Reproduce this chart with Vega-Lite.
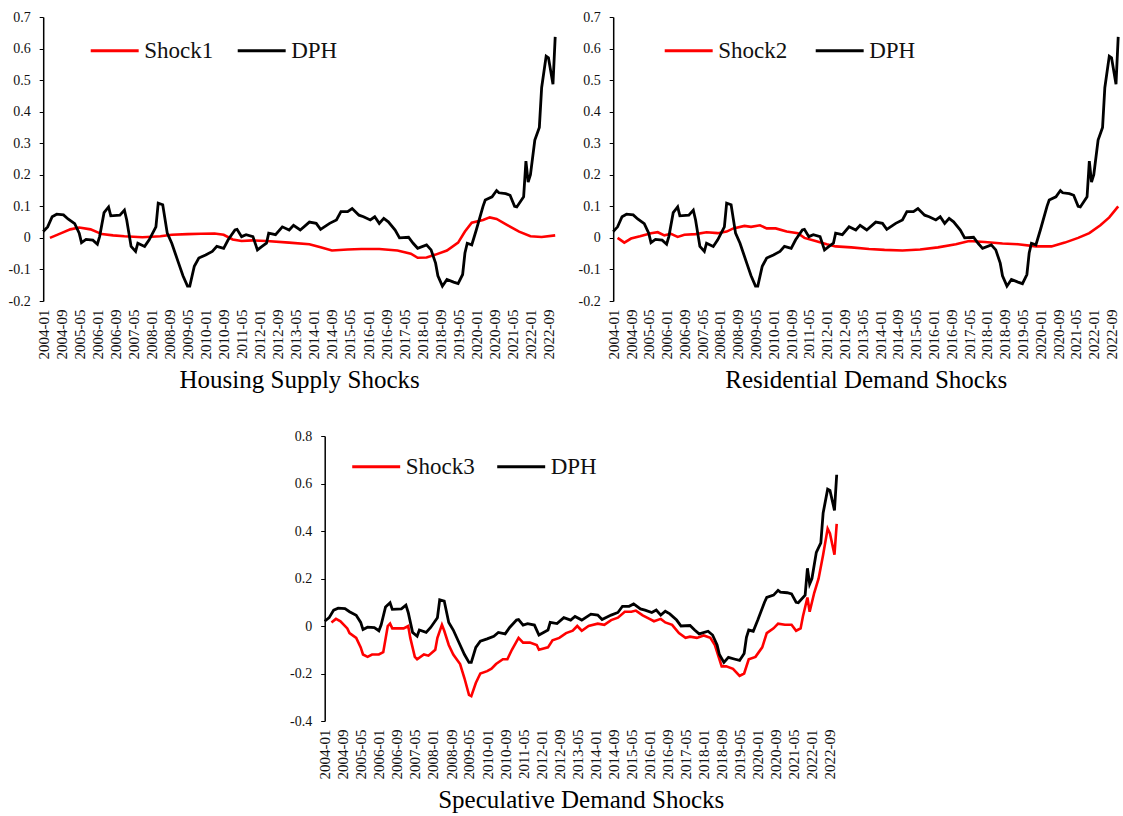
{
  "$schema": "https://vega.github.io/schema/vega-lite/v6.json",
  "background": "white",
  "padding": {"left": 8, "top": 10, "right": 0, "bottom": 0},
  "config": {
    "view": {"stroke": null},
    "font": "Liberation Serif",
    "axis": {"labelFont": "Liberation Serif", "titleFont": "Liberation Serif", "labelColor": "#111", "titleColor": "#000", "grid": false, "labelOverlap": false},
    "axisX": {"labelOverlap": false, "labelAngle": 270, "labelFontSize": 15, "labelPadding": 8, "labelFlush": false, "domain": false, "ticks": false, "titleFontSize": 25, "titleFontWeight": "normal", "titlePadding": 9},
    "axisY": {"labelOverlap": false, "labelFontSize": 14, "labelPadding": 9, "tickSize": 4, "domainColor": "#000", "tickColor": "#000", "domainWidth": 1.5, "labelFlush": false, "title": null, "labelExpr": "toString(round(datum.value*10)/10)"},
    "legend": {"labelFont": "Liberation Serif", "title": null, "orient": "none", "direction": "horizontal", "symbolType": "stroke", "symbolSize": 2300, "symbolStrokeWidth": 3, "labelFontSize": 23, "labelColor": "#111", "labelOffset": 4}
  },
  "datasets": {
    "dph": [
      {"date": "2004-01-01", "value": 0.02}, {"date": "2004-03-01", "value": 0.035}, {"date": "2004-05-01", "value": 0.067}, {"date": "2004-07-01", "value": 0.075},
      {"date": "2004-10-01", "value": 0.073}, {"date": "2004-12-01", "value": 0.06}, {"date": "2005-03-01", "value": 0.045}, {"date": "2005-05-01", "value": 0.015},
      {"date": "2005-06-01", "value": -0.015}, {"date": "2005-08-01", "value": -0.005}, {"date": "2005-11-01", "value": -0.007}, {"date": "2006-01-01", "value": -0.02},
      {"date": "2006-02-01", "value": 0.005}, {"date": "2006-04-01", "value": 0.08}, {"date": "2006-06-01", "value": 0.098}, {"date": "2006-07-01", "value": 0.07},
      {"date": "2006-11-01", "value": 0.072}, {"date": "2007-01-01", "value": 0.088}, {"date": "2007-02-01", "value": 0.057}, {"date": "2007-04-01", "value": -0.027},
      {"date": "2007-06-01", "value": -0.043}, {"date": "2007-07-01", "value": -0.017}, {"date": "2007-10-01", "value": -0.027}, {"date": "2007-12-01", "value": -0.006},
      {"date": "2008-03-01", "value": 0.035}, {"date": "2008-04-01", "value": 0.11}, {"date": "2008-06-01", "value": 0.105}, {"date": "2008-08-01", "value": 0.015},
      {"date": "2008-10-01", "value": -0.017}, {"date": "2009-01-01", "value": -0.08}, {"date": "2009-03-01", "value": -0.12}, {"date": "2009-05-01", "value": -0.153},
      {"date": "2009-06-01", "value": -0.153}, {"date": "2009-08-01", "value": -0.09}, {"date": "2009-10-01", "value": -0.064}, {"date": "2010-01-01", "value": -0.054},
      {"date": "2010-04-01", "value": -0.043}, {"date": "2010-06-01", "value": -0.027}, {"date": "2010-09-01", "value": -0.033}, {"date": "2010-11-01", "value": -0.006},
      {"date": "2011-02-01", "value": 0.025}, {"date": "2011-03-01", "value": 0.027}, {"date": "2011-05-01", "value": 0.004}, {"date": "2011-07-01", "value": 0.01},
      {"date": "2011-10-01", "value": 0.004}, {"date": "2011-12-01", "value": -0.038}, {"date": "2012-02-01", "value": -0.027}, {"date": "2012-04-01", "value": -0.017},
      {"date": "2012-05-01", "value": 0.015}, {"date": "2012-08-01", "value": 0.01}, {"date": "2012-11-01", "value": 0.035}, {"date": "2013-02-01", "value": 0.025},
      {"date": "2013-04-01", "value": 0.04}, {"date": "2013-07-01", "value": 0.025}, {"date": "2013-11-01", "value": 0.05}, {"date": "2014-02-01", "value": 0.046},
      {"date": "2014-04-01", "value": 0.027}, {"date": "2014-08-01", "value": 0.046}, {"date": "2014-11-01", "value": 0.057}, {"date": "2015-01-01", "value": 0.083},
      {"date": "2015-04-01", "value": 0.083}, {"date": "2015-06-01", "value": 0.093}, {"date": "2015-09-01", "value": 0.072}, {"date": "2015-11-01", "value": 0.067},
      {"date": "2016-02-01", "value": 0.057}, {"date": "2016-04-01", "value": 0.067}, {"date": "2016-06-01", "value": 0.046}, {"date": "2016-08-01", "value": 0.062},
      {"date": "2016-10-01", "value": 0.051}, {"date": "2017-01-01", "value": 0.025}, {"date": "2017-03-01", "value": 0.0}, {"date": "2017-07-01", "value": 0.002},
      {"date": "2017-09-01", "value": -0.017}, {"date": "2017-11-01", "value": -0.033}, {"date": "2018-03-01", "value": -0.022}, {"date": "2018-05-01", "value": -0.038},
      {"date": "2018-07-01", "value": -0.08}, {"date": "2018-08-01", "value": -0.12}, {"date": "2018-10-01", "value": -0.153}, {"date": "2018-12-01", "value": -0.132},
      {"date": "2019-03-01", "value": -0.14}, {"date": "2019-05-01", "value": -0.145}, {"date": "2019-07-01", "value": -0.116}, {"date": "2019-08-01", "value": -0.048},
      {"date": "2019-09-01", "value": -0.017}, {"date": "2019-11-01", "value": -0.022}, {"date": "2020-01-01", "value": 0.025}, {"date": "2020-04-01", "value": 0.1},
      {"date": "2020-05-01", "value": 0.12}, {"date": "2020-08-01", "value": 0.13}, {"date": "2020-10-01", "value": 0.15}, {"date": "2020-11-01", "value": 0.143},
      {"date": "2021-02-01", "value": 0.14}, {"date": "2021-04-01", "value": 0.135}, {"date": "2021-06-01", "value": 0.1}, {"date": "2021-07-01", "value": 0.098},
      {"date": "2021-10-01", "value": 0.13}, {"date": "2021-11-01", "value": 0.243}, {"date": "2021-12-01", "value": 0.177}, {"date": "2022-01-01", "value": 0.2},
      {"date": "2022-03-01", "value": 0.31}, {"date": "2022-05-01", "value": 0.35}, {"date": "2022-06-01", "value": 0.476}, {"date": "2022-08-01", "value": 0.576},
      {"date": "2022-09-01", "value": 0.571}, {"date": "2022-11-01", "value": 0.487}, {"date": "2022-12-01", "value": 0.637}
    ],
    "shock1": [
      {"date": "2004-04-01", "value": 0.0}, {"date": "2004-09-01", "value": 0.015}, {"date": "2005-01-01", "value": 0.027}, {"date": "2005-05-01", "value": 0.033},
      {"date": "2005-10-01", "value": 0.027}, {"date": "2006-03-01", "value": 0.012}, {"date": "2006-08-01", "value": 0.008}, {"date": "2007-01-01", "value": 0.005},
      {"date": "2007-09-01", "value": 0.002}, {"date": "2008-05-01", "value": 0.005}, {"date": "2008-10-01", "value": 0.01}, {"date": "2009-05-01", "value": 0.012},
      {"date": "2009-11-01", "value": 0.013}, {"date": "2010-05-01", "value": 0.014}, {"date": "2010-09-01", "value": 0.01}, {"date": "2011-01-01", "value": -0.005},
      {"date": "2011-05-01", "value": -0.01}, {"date": "2011-10-01", "value": -0.008}, {"date": "2012-04-01", "value": -0.01}, {"date": "2013-02-01", "value": -0.015},
      {"date": "2013-11-01", "value": -0.02}, {"date": "2014-04-01", "value": -0.03}, {"date": "2014-09-01", "value": -0.04}, {"date": "2015-04-01", "value": -0.037},
      {"date": "2015-10-01", "value": -0.035}, {"date": "2016-06-01", "value": -0.035}, {"date": "2017-02-01", "value": -0.04}, {"date": "2017-08-01", "value": -0.05},
      {"date": "2017-11-01", "value": -0.063}, {"date": "2018-03-01", "value": -0.062}, {"date": "2018-07-01", "value": -0.053}, {"date": "2018-12-01", "value": -0.04},
      {"date": "2019-05-01", "value": -0.015}, {"date": "2019-08-01", "value": 0.02}, {"date": "2019-11-01", "value": 0.048}, {"date": "2020-04-01", "value": 0.057},
      {"date": "2020-07-01", "value": 0.065}, {"date": "2020-10-01", "value": 0.06}, {"date": "2021-03-01", "value": 0.04}, {"date": "2021-08-01", "value": 0.02},
      {"date": "2022-01-01", "value": 0.005}, {"date": "2022-06-01", "value": 0.003}, {"date": "2022-12-01", "value": 0.008}
    ],
    "shock2": [
      {"date": "2004-03-01", "value": 0.0}, {"date": "2004-06-01", "value": -0.015}, {"date": "2004-09-01", "value": -0.002}, {"date": "2005-01-01", "value": 0.005},
      {"date": "2005-06-01", "value": 0.015}, {"date": "2005-09-01", "value": 0.018}, {"date": "2005-12-01", "value": 0.008}, {"date": "2006-03-01", "value": 0.013},
      {"date": "2006-06-01", "value": 0.003}, {"date": "2006-09-01", "value": 0.01}, {"date": "2007-02-01", "value": 0.012}, {"date": "2007-07-01", "value": 0.018},
      {"date": "2007-12-01", "value": 0.015}, {"date": "2008-04-01", "value": 0.02}, {"date": "2008-07-01", "value": 0.03}, {"date": "2008-12-01", "value": 0.038},
      {"date": "2009-03-01", "value": 0.035}, {"date": "2009-07-01", "value": 0.04}, {"date": "2009-10-01", "value": 0.03}, {"date": "2010-02-01", "value": 0.03},
      {"date": "2010-07-01", "value": 0.02}, {"date": "2010-12-01", "value": 0.015}, {"date": "2011-03-01", "value": 0.0}, {"date": "2011-08-01", "value": -0.01},
      {"date": "2012-01-01", "value": -0.02}, {"date": "2012-05-01", "value": -0.027}, {"date": "2012-12-01", "value": -0.03}, {"date": "2013-08-01", "value": -0.035},
      {"date": "2014-03-01", "value": -0.038}, {"date": "2014-11-01", "value": -0.04}, {"date": "2015-07-01", "value": -0.037}, {"date": "2016-03-01", "value": -0.03},
      {"date": "2016-11-01", "value": -0.02}, {"date": "2017-05-01", "value": -0.01}, {"date": "2017-12-01", "value": -0.013}, {"date": "2018-08-01", "value": -0.018},
      {"date": "2019-03-01", "value": -0.02}, {"date": "2019-11-01", "value": -0.027}, {"date": "2020-06-01", "value": -0.027}, {"date": "2020-12-01", "value": -0.015},
      {"date": "2021-06-01", "value": 0.0}, {"date": "2021-11-01", "value": 0.015}, {"date": "2022-04-01", "value": 0.04}, {"date": "2022-08-01", "value": 0.065},
      {"date": "2022-12-01", "value": 0.1}
    ],
    "shock3": [
      {"date": "2004-04-01", "value": 0.015}, {"date": "2004-06-01", "value": 0.03}, {"date": "2004-08-01", "value": 0.02}, {"date": "2004-11-01", "value": -0.01},
      {"date": "2004-12-01", "value": -0.03}, {"date": "2005-03-01", "value": -0.05}, {"date": "2005-05-01", "value": -0.09}, {"date": "2005-06-01", "value": -0.12},
      {"date": "2005-08-01", "value": -0.13}, {"date": "2005-10-01", "value": -0.12}, {"date": "2006-01-01", "value": -0.12}, {"date": "2006-03-01", "value": -0.11},
      {"date": "2006-05-01", "value": 0.0}, {"date": "2006-06-01", "value": 0.01}, {"date": "2006-07-01", "value": -0.01}, {"date": "2006-12-01", "value": -0.01},
      {"date": "2007-02-01", "value": 0.0}, {"date": "2007-03-01", "value": -0.05}, {"date": "2007-05-01", "value": -0.13}, {"date": "2007-06-01", "value": -0.14},
      {"date": "2007-09-01", "value": -0.12}, {"date": "2007-11-01", "value": -0.125}, {"date": "2008-02-01", "value": -0.1}, {"date": "2008-03-01", "value": -0.05},
      {"date": "2008-05-01", "value": 0.005}, {"date": "2008-06-01", "value": -0.02}, {"date": "2008-08-01", "value": -0.08}, {"date": "2008-10-01", "value": -0.12},
      {"date": "2009-01-01", "value": -0.16}, {"date": "2009-03-01", "value": -0.22}, {"date": "2009-05-01", "value": -0.29}, {"date": "2009-06-01", "value": -0.295},
      {"date": "2009-08-01", "value": -0.24}, {"date": "2009-10-01", "value": -0.2}, {"date": "2010-01-01", "value": -0.19}, {"date": "2010-03-01", "value": -0.18},
      {"date": "2010-05-01", "value": -0.16}, {"date": "2010-08-01", "value": -0.14}, {"date": "2010-10-01", "value": -0.14}, {"date": "2010-12-01", "value": -0.1},
      {"date": "2011-03-01", "value": -0.05}, {"date": "2011-05-01", "value": -0.07}, {"date": "2011-08-01", "value": -0.07}, {"date": "2011-11-01", "value": -0.08},
      {"date": "2011-12-01", "value": -0.1}, {"date": "2012-04-01", "value": -0.09}, {"date": "2012-06-01", "value": -0.06}, {"date": "2012-09-01", "value": -0.05},
      {"date": "2012-12-01", "value": -0.03}, {"date": "2013-03-01", "value": -0.02}, {"date": "2013-05-01", "value": 0.0}, {"date": "2013-07-01", "value": -0.02},
      {"date": "2013-10-01", "value": 0.0}, {"date": "2014-02-01", "value": 0.01}, {"date": "2014-05-01", "value": 0.005}, {"date": "2014-08-01", "value": 0.025},
      {"date": "2014-11-01", "value": 0.035}, {"date": "2015-02-01", "value": 0.06}, {"date": "2015-05-01", "value": 0.06}, {"date": "2015-07-01", "value": 0.065},
      {"date": "2015-10-01", "value": 0.045}, {"date": "2016-01-01", "value": 0.03}, {"date": "2016-03-01", "value": 0.02}, {"date": "2016-06-01", "value": 0.03},
      {"date": "2016-08-01", "value": 0.015}, {"date": "2016-11-01", "value": 0.005}, {"date": "2017-02-01", "value": -0.03}, {"date": "2017-05-01", "value": -0.05},
      {"date": "2017-07-01", "value": -0.045}, {"date": "2017-10-01", "value": -0.05}, {"date": "2018-01-01", "value": -0.04}, {"date": "2018-04-01", "value": -0.05},
      {"date": "2018-06-01", "value": -0.08}, {"date": "2018-09-01", "value": -0.17}, {"date": "2018-11-01", "value": -0.17}, {"date": "2019-02-01", "value": -0.18},
      {"date": "2019-05-01", "value": -0.21}, {"date": "2019-07-01", "value": -0.2}, {"date": "2019-09-01", "value": -0.14}, {"date": "2019-12-01", "value": -0.13},
      {"date": "2020-03-01", "value": -0.09}, {"date": "2020-05-01", "value": -0.03}, {"date": "2020-08-01", "value": -0.01}, {"date": "2020-10-01", "value": 0.01},
      {"date": "2021-01-01", "value": 0.005}, {"date": "2021-04-01", "value": 0.005}, {"date": "2021-06-01", "value": -0.02}, {"date": "2021-08-01", "value": -0.01},
      {"date": "2021-09-01", "value": 0.04}, {"date": "2021-11-01", "value": 0.12}, {"date": "2021-12-01", "value": 0.06}, {"date": "2022-02-01", "value": 0.14},
      {"date": "2022-04-01", "value": 0.2}, {"date": "2022-06-01", "value": 0.3}, {"date": "2022-08-01", "value": 0.41}, {"date": "2022-09-01", "value": 0.39},
      {"date": "2022-11-01", "value": 0.3}, {"date": "2022-12-01", "value": 0.43}
    ]
  },
  "vconcat": [
    {
      "hconcat": [
        {
          "width": 512, "height": 284,
          "encoding": {
            "x": {"field": "date", "type": "temporal", "scale": {"type": "utc", "domain": [{"year": 2004, "month": 1, "date": 1, "utc": true}, {"year": 2022, "month": 12, "date": 1, "utc": true}]},
              "axis": {"values": [{"year":2004,"month":1,"date":1,"utc":true},{"year":2004,"month":9,"date":1,"utc":true},{"year":2005,"month":5,"date":1,"utc":true},{"year":2006,"month":1,"date":1,"utc":true},{"year":2006,"month":9,"date":1,"utc":true},{"year":2007,"month":5,"date":1,"utc":true},{"year":2008,"month":1,"date":1,"utc":true},{"year":2008,"month":9,"date":1,"utc":true},{"year":2009,"month":5,"date":1,"utc":true},{"year":2010,"month":1,"date":1,"utc":true},{"year":2010,"month":9,"date":1,"utc":true},{"year":2011,"month":5,"date":1,"utc":true},{"year":2012,"month":1,"date":1,"utc":true},{"year":2012,"month":9,"date":1,"utc":true},{"year":2013,"month":5,"date":1,"utc":true},{"year":2014,"month":1,"date":1,"utc":true},{"year":2014,"month":9,"date":1,"utc":true},{"year":2015,"month":5,"date":1,"utc":true},{"year":2016,"month":1,"date":1,"utc":true},{"year":2016,"month":9,"date":1,"utc":true},{"year":2017,"month":5,"date":1,"utc":true},{"year":2018,"month":1,"date":1,"utc":true},{"year":2018,"month":9,"date":1,"utc":true},{"year":2019,"month":5,"date":1,"utc":true},{"year":2020,"month":1,"date":1,"utc":true},{"year":2020,"month":9,"date":1,"utc":true},{"year":2021,"month":5,"date":1,"utc":true},{"year":2022,"month":1,"date":1,"utc":true},{"year":2022,"month":9,"date":1,"utc":true}],
                "labelExpr": "utcFormat(datum.value, '%Y-%m')", "labelOverlap": false, "title": "Housing Supply Shocks"}},
            "y": {"field": "value", "type": "quantitative", "scale": {"domain": [-0.2, 0.7], "nice": false, "zero": false},
              "axis": {"values": [-0.2, -0.1, 0, 0.1, 0.2, 0.3, 0.4, 0.5, 0.6, 0.7], "labelOverlap": false}}
          },
          "layer": [
            {"data": {"name": "shock1"}, "mark": {"type": "line", "strokeWidth": 2.6},
             "encoding": {"color": {"datum": "Shock1", "type": "nominal", "scale": {"domain": ["Shock1", "DPH"], "range": ["#ff0000", "#000000"]},
                 "legend": {"legendX": 46, "legendY": 8, "columnPadding": 18}}}},
            {"data": {"name": "dph"}, "mark": {"type": "line", "strokeWidth": 2.8},
             "encoding": {"color": {"datum": "DPH", "type": "nominal"}}},
            {"data": {"name": "dph"}, "transform": [{"aggregate": [{"op": "count", "as": "n"}]}], "mark": {"type": "rule", "color": "#333", "strokeWidth": 1.6},
             "encoding": {"x": null, "y": {"datum": 0, "type": "quantitative"}}}
          ]
        },
        {
          "width": 505, "height": 284,
          "encoding": {
            "x": {"field": "date", "type": "temporal", "scale": {"type": "utc", "domain": [{"year": 2004, "month": 1, "date": 1, "utc": true}, {"year": 2022, "month": 12, "date": 1, "utc": true}]},
              "axis": {"values": [{"year":2004,"month":1,"date":1,"utc":true},{"year":2004,"month":9,"date":1,"utc":true},{"year":2005,"month":5,"date":1,"utc":true},{"year":2006,"month":1,"date":1,"utc":true},{"year":2006,"month":9,"date":1,"utc":true},{"year":2007,"month":5,"date":1,"utc":true},{"year":2008,"month":1,"date":1,"utc":true},{"year":2008,"month":9,"date":1,"utc":true},{"year":2009,"month":5,"date":1,"utc":true},{"year":2010,"month":1,"date":1,"utc":true},{"year":2010,"month":9,"date":1,"utc":true},{"year":2011,"month":5,"date":1,"utc":true},{"year":2012,"month":1,"date":1,"utc":true},{"year":2012,"month":9,"date":1,"utc":true},{"year":2013,"month":5,"date":1,"utc":true},{"year":2014,"month":1,"date":1,"utc":true},{"year":2014,"month":9,"date":1,"utc":true},{"year":2015,"month":5,"date":1,"utc":true},{"year":2016,"month":1,"date":1,"utc":true},{"year":2016,"month":9,"date":1,"utc":true},{"year":2017,"month":5,"date":1,"utc":true},{"year":2018,"month":1,"date":1,"utc":true},{"year":2018,"month":9,"date":1,"utc":true},{"year":2019,"month":5,"date":1,"utc":true},{"year":2020,"month":1,"date":1,"utc":true},{"year":2020,"month":9,"date":1,"utc":true},{"year":2021,"month":5,"date":1,"utc":true},{"year":2022,"month":1,"date":1,"utc":true},{"year":2022,"month":9,"date":1,"utc":true}],
                "labelExpr": "utcFormat(datum.value, '%Y-%m')", "labelOverlap": false, "title": "Residential Demand Shocks"}},
            "y": {"field": "value", "type": "quantitative", "scale": {"domain": [-0.2, 0.7], "nice": false, "zero": false},
              "axis": {"values": [-0.2, -0.1, 0, 0.1, 0.2, 0.3, 0.4, 0.5, 0.6, 0.7], "labelOverlap": false}}
          },
          "layer": [
            {"data": {"name": "shock2"}, "mark": {"type": "line", "strokeWidth": 2.6},
             "encoding": {"color": {"datum": "Shock2", "type": "nominal", "scale": {"domain": ["Shock2", "DPH"], "range": ["#ff0000", "#000000"]},
                 "legend": {"legendX": 50, "legendY": 8, "columnPadding": 22}}}},
            {"data": {"name": "dph"}, "mark": {"type": "line", "strokeWidth": 2.8},
             "encoding": {"color": {"datum": "DPH", "type": "nominal"}}},
            {"data": {"name": "dph"}, "transform": [{"aggregate": [{"op": "count", "as": "n"}]}], "mark": {"type": "rule", "color": "#333", "strokeWidth": 1.6},
             "encoding": {"x": null, "y": {"datum": 0, "type": "quantitative"}}}
          ]
        }
      ],
      "spacing": 16,
      "resolve": {"scale": {"x": "independent", "y": "independent", "color": "independent"}, "legend": {"color": "independent"}}
    },
    {
      "width": 512, "height": 285,
      "encoding": {
        "x": {"field": "date", "type": "temporal", "scale": {"type": "utc", "domain": [{"year": 2004, "month": 1, "date": 1, "utc": true}, {"year": 2022, "month": 12, "date": 1, "utc": true}]},
          "axis": {"values": [{"year":2004,"month":1,"date":1,"utc":true},{"year":2004,"month":9,"date":1,"utc":true},{"year":2005,"month":5,"date":1,"utc":true},{"year":2006,"month":1,"date":1,"utc":true},{"year":2006,"month":9,"date":1,"utc":true},{"year":2007,"month":5,"date":1,"utc":true},{"year":2008,"month":1,"date":1,"utc":true},{"year":2008,"month":9,"date":1,"utc":true},{"year":2009,"month":5,"date":1,"utc":true},{"year":2010,"month":1,"date":1,"utc":true},{"year":2010,"month":9,"date":1,"utc":true},{"year":2011,"month":5,"date":1,"utc":true},{"year":2012,"month":1,"date":1,"utc":true},{"year":2012,"month":9,"date":1,"utc":true},{"year":2013,"month":5,"date":1,"utc":true},{"year":2014,"month":1,"date":1,"utc":true},{"year":2014,"month":9,"date":1,"utc":true},{"year":2015,"month":5,"date":1,"utc":true},{"year":2016,"month":1,"date":1,"utc":true},{"year":2016,"month":9,"date":1,"utc":true},{"year":2017,"month":5,"date":1,"utc":true},{"year":2018,"month":1,"date":1,"utc":true},{"year":2018,"month":9,"date":1,"utc":true},{"year":2019,"month":5,"date":1,"utc":true},{"year":2020,"month":1,"date":1,"utc":true},{"year":2020,"month":9,"date":1,"utc":true},{"year":2021,"month":5,"date":1,"utc":true},{"year":2022,"month":1,"date":1,"utc":true},{"year":2022,"month":9,"date":1,"utc":true}],
            "labelExpr": "utcFormat(datum.value, '%Y-%m')", "labelOverlap": false, "title": "Speculative Demand Shocks"}},
        "y": {"field": "value", "type": "quantitative", "scale": {"domain": [-0.4, 0.8], "nice": false, "zero": false},
          "axis": {"values": [-0.4, -0.2, 0, 0.2, 0.4, 0.6, 0.8], "labelOverlap": false}}
      },
      "layer": [
        {"data": {"name": "shock3"}, "mark": {"type": "line", "strokeWidth": 2.6},
         "encoding": {"color": {"datum": "Shock3", "type": "nominal", "scale": {"domain": ["Shock3", "DPH"], "range": ["#ff0000", "#000000"]},
             "legend": {"legendX": 26, "legendY": 5, "columnPadding": 16}}}},
        {"data": {"name": "dph"}, "mark": {"type": "line", "strokeWidth": 2.8},
         "encoding": {"color": {"datum": "DPH", "type": "nominal"}}},
        {"data": {"name": "dph"}, "transform": [{"aggregate": [{"op": "count", "as": "n"}]}], "mark": {"type": "rule", "color": "#333", "strokeWidth": 1.6},
         "encoding": {"x": null, "y": {"datum": 0, "type": "quantitative"}}}
      ]
    }
  ],
  "spacing": 36,
  "center": true,
  "resolve": {"scale": {"x": "independent", "y": "independent", "color": "independent"}, "legend": {"color": "independent"}}
}
